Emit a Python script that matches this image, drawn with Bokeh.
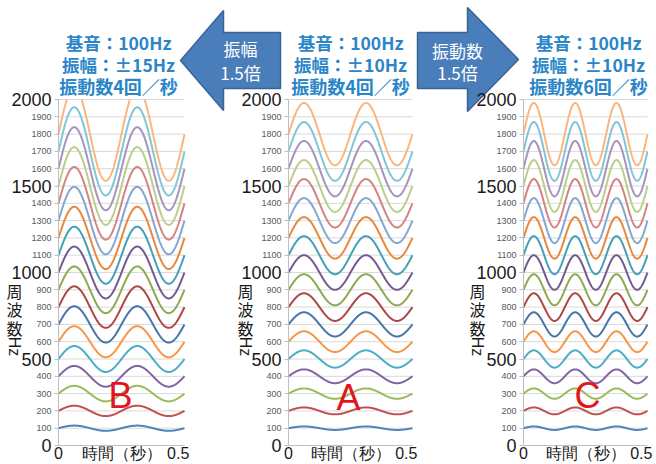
import numpy as np
from bokeh.plotting import figure
from bokeh.models import LinearAxis, FixedTicker, Range1d
from bokeh.embed import file_html
from bokeh.resources import INLINE
from bokeh.core.properties import value

# ---------------- data ----------------
harmonic_base_hz = [100, 200, 300, 400, 500, 600, 700, 800, 900,
                    1000, 1100, 1200, 1300, 1400, 1500, 1600, 1700, 1800]
panel_letters = ["B", "A", "C"]
vibrato_depth_hz = [15, 10, 10]      # ± depth of the 100 Hz fundamental
vibrato_rate_per_s = [4, 4, 6]       # vibrato cycles per second
title_line1 = ["基音：100Hz", "基音：100Hz", "基音：100Hz"]
title_line2 = ["振幅：±15Hz", "振幅：±10Hz", "振幅：±10Hz"]
title_line3 = ["振動数4回／秒", "振動数4回／秒", "振動数6回／秒"]
arrow_left_text = ["振幅", "1.5倍"]
arrow_right_text = ["振動数", "1.5倍"]
x_tick_pos = [0, 0.25, 0.475]
x_tick_labels = {0: "0", 0.25: "時間（秒）", 0.475: "0.5"}
y_big_ticks = [0, 500, 1000, 1500, 2000]
y_small_ticks = [100, 200, 300, 400, 600, 700, 800, 900, 1100, 1200,
                 1300, 1400, 1600, 1700, 1800, 1900]
y_all_ticks = sorted(y_big_ticks + y_small_ticks)
time_s = np.linspace(0.0, 0.5, 2001)
Y_MAX = 2000

series_colors = ["#4F81BD", "#C0504D", "#9BBB59", "#8064A2", "#4BACC6", "#F79646",
                 "#4674AB", "#AD4744", "#8CAA50", "#735A92", "#43A0B8", "#E8883C",
                 "#84A7D1", "#D38482", "#B9CF8B", "#A693BE", "#81C5D7", "#F9B67E"]

# ---------------- layout (page pixels) ----------------
W, H = 656, 464
Y0_PX, Y2000_PX = 445, 99
panel_px = [(58, 184), (288, 412), (523, 647)]   # t=0 .. t=0.5
CJK = "Noto Sans CJK JP"
NUM = "Liberation Sans"
TITLE_COLOR = "#2A86C8"
INK = "#1A1A1A"

hz_per_px = Y_MAX / (Y0_PX - Y2000_PX)
extra_y = {"hz": Range1d((Y0_PX - H) * hz_per_px, Y0_PX * hz_per_px)}
extra_x = {}
for name, (a, b) in zip(panel_letters, panel_px):
    s = 0.5 / (b - a)
    extra_x["t" + name] = Range1d(-a * s, (W - a) * s)

p = figure(width=W, height=H, x_range=Range1d(0, W), y_range=Range1d(H, 0),
           output_backend="svg", toolbar_location=None,
           x_axis_location=None, y_axis_location=None, min_border=0,
           min_border_left=0, min_border_right=0, min_border_top=0, min_border_bottom=0)
p.extra_x_ranges = extra_x
p.extra_y_ranges = extra_y
p.outline_line_color = None
p.xgrid.visible = False
p.ygrid.visible = False

# arrows (page-pixel coordinates)
left_arrow_x = [180, 223, 223, 280, 280, 223, 223]
left_arrow_y = [60, 10, 32, 32, 88, 88, 110]
right_arrow_x = [417, 467, 467, 518, 467, 467, 417]
right_arrow_y = [32, 32, 7, 59, 111, 88, 88]
for ax_, ay_ in ((left_arrow_x, left_arrow_y), (right_arrow_x, right_arrow_y)):
    p.patch(ax_, ay_, fill_color="#4A7EBB", line_color="#3A6496", line_width=1.5)

def txt(xs, ys, texts, size, color, font, bold=False, angle=0.0, align="center"):
    p.text(x=xs, y=ys, text=texts, text_font=value(font), text_font_size=value(size),
           text_color=color, text_align=align, text_baseline="middle",
           text_font_style="bold" if bold else "normal", angle=angle)

txt([240, 240], [48, 72], arrow_left_text, "17px", "white", CJK)
txt([457, 457], [50, 72], arrow_right_text, "17px", "white", CJK)

title_cx = [118, 350, 588]
txt(title_cx, [42] * 3, title_line1, "17.5px", TITLE_COLOR, CJK, bold=True)
txt(title_cx, [64] * 3, title_line2, "17.5px", TITLE_COLOR, CJK, bold=True)
txt(title_cx, [85] * 3, title_line3, "18px", TITLE_COLOR, CJK, bold=True)

ylab_cx = [14, 245, 477]
txt(ylab_cx, [290] * 3, ["周"] * 3, "16px", INK, CJK)
txt(ylab_cx, [308] * 3, ["波"] * 3, "16px", INK, CJK)
txt(ylab_cx, [327] * 3, ["数"] * 3, "16px", INK, CJK)
txt(ylab_cx, [346] * 3, ["Hz"] * 3, "16px", INK, NUM, angle=-np.pi / 2)

for i, name in enumerate(panel_letters):
    xr = "t" + name
    # grid lines
    p.segment(x0=[0] * len(y_all_ticks), x1=[0.5] * len(y_all_ticks),
              y0=y_all_ticks, y1=y_all_ticks, line_color="#D9D9D9", line_width=1,
              x_range_name=xr, y_range_name="hz")
    # curves
    for k, base in enumerate(harmonic_base_hz):
        dev = base * vibrato_depth_hz[i] / 100.0
        yy = base + dev * np.sin(2 * np.pi * vibrato_rate_per_s[i] * time_s)
        yy = np.where(yy > Y_MAX, np.nan, yy)
        p.line(time_s, yy, line_color=series_colors[k], line_width=2,
               x_range_name=xr, y_range_name="hz")

    # axes
    ax_s = LinearAxis(fixed_location=0, x_range_name=xr, y_range_name="hz",
                      ticker=FixedTicker(ticks=y_small_ticks), bounds=(0, Y_MAX))
    ax_s.major_label_text_font_size = "9px"
    ax_s.major_label_text_color = "#595959"
    ax_s.major_label_text_font = NUM
    ax_s.major_label_standoff = 3
    ax_s.major_tick_out = 4
    ax_s.major_tick_in = 0
    ax_s.minor_tick_out = 0
    ax_s.major_tick_line_color = "#BFBFBF"
    ax_s.axis_line_color = "#BFBFBF"
    p.add_layout(ax_s, "left")

    ax_b = LinearAxis(fixed_location=0, x_range_name=xr, y_range_name="hz",
                      ticker=FixedTicker(ticks=y_big_ticks), bounds=(0, Y_MAX))
    ax_b.major_label_text_font_size = "18px"
    ax_b.major_label_text_color = INK
    ax_b.major_label_text_font = NUM
    ax_b.major_label_standoff = 3
    ax_b.major_tick_out = 4
    ax_b.major_tick_in = 0
    ax_b.minor_tick_out = 0
    ax_b.major_tick_line_color = "#BFBFBF"
    ax_b.axis_line_color = "#BFBFBF"
    p.add_layout(ax_b, "left")

    ax_x = LinearAxis(fixed_location=0, x_range_name=xr, y_range_name="hz",
                      ticker=FixedTicker(ticks=x_tick_pos), bounds=(0, 0.5),
                      major_label_overrides=x_tick_labels)
    ax_x.major_label_text_font_size = "16px"
    ax_x.major_label_text_color = INK
    ax_x.major_label_text_font = NUM
    ax_x.major_label_standoff = -1
    ax_x.major_tick_out = 0
    ax_x.major_tick_in = 0
    ax_x.minor_tick_out = 0
    ax_x.axis_line_color = "#BFBFBF"
    p.add_layout(ax_x, "below")

# panel letters
txt([120, 348, 587], [395, 397, 395], panel_letters, "36px", "#E3141C", NUM)

open("out.html", "w").write(file_html(p, INLINE))
